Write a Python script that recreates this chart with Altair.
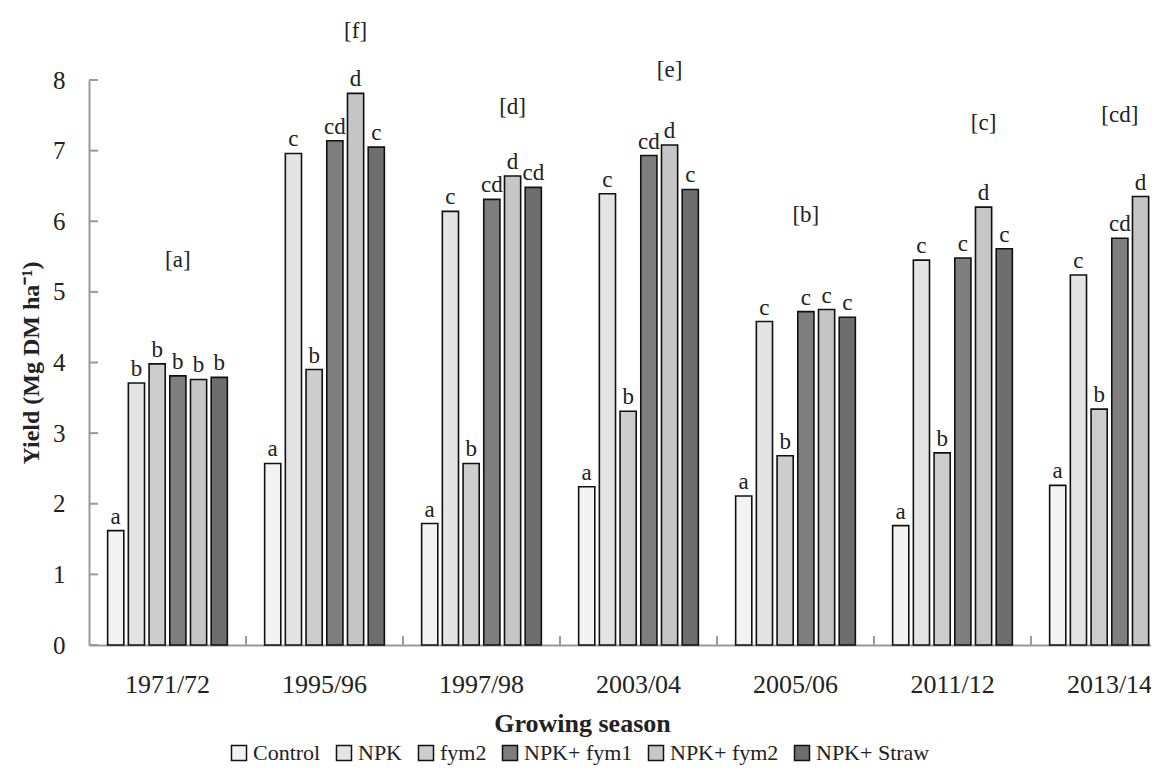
import altair as alt
import pandas as pd

seasons = ["1971/72", "1995/96", "1997/98", "2003/04", "2005/06", "2011/12", "2013/14"]
treatments = ["Control", "NPK", "fym2", "NPK+ fym1", "NPK+ fym2", "NPK+ Straw"]

control = [1.62, 2.57, 1.72, 2.24, 2.11, 1.69, 2.26]
npk = [3.71, 6.96, 6.14, 6.39, 4.58, 5.45, 5.24]
fym2 = [3.98, 3.90, 2.57, 3.31, 2.68, 2.72, 3.34]
npk_fym1 = [3.81, 7.14, 6.31, 6.93, 4.72, 5.48, 5.76]
npk_fym2 = [3.76, 7.81, 6.64, 7.08, 4.75, 6.20, 6.35]
npk_straw = [3.79, 7.05, 6.48, 6.45, 4.64, 5.61, 5.71]

letters_control = ["a", "a", "a", "a", "a", "a", "a"]
letters_npk = ["b", "c", "c", "c", "c", "c", "c"]
letters_fym2 = ["b", "b", "b", "b", "b", "b", "b"]
letters_npk_fym1 = ["b", "cd", "cd", "cd", "c", "c", "cd"]
letters_npk_fym2 = ["b", "d", "d", "d", "c", "d", "d"]
letters_npk_straw = ["b", "c", "cd", "c", "c", "c", "c"]

group_labels = ["[a]", "[f]", "[d]", "[e]", "[b]", "[c]", "[cd]"]
group_label_y = [5.45, 8.69, 7.62, 8.14, 6.09, 7.39, 7.50]
group_label_over = ["NPK+ fym1", "NPK+ fym2", "NPK+ fym2", "NPK+ fym2",
                    "NPK+ fym1", "NPK+ fym2", "NPK+ fym1"]

y_ticks = [0, 1, 2, 3, 4, 5, 6, 7, 8]

fills = ["#f3f3f3", "#e4e4e4", "#cdcdcd", "#7e7e7e", "#c6c6c6", "#6e6e6e"]

series = [control, npk, fym2, npk_fym1, npk_fym2, npk_straw]
letter_series = [letters_control, letters_npk, letters_fym2,
                 letters_npk_fym1, letters_npk_fym2, letters_npk_straw]

rows = []
for t, vals, lets in zip(treatments, series, letter_series):
    for s, v, l in zip(seasons, vals, lets):
        rows.append({"season": s, "treatment": t, "yield": v, "letter": l})
df = pd.DataFrame(rows)

glab = pd.DataFrame({"season": seasons, "label": group_labels, "ly": group_label_y,
                     "treatment": group_label_over})
ytk = pd.DataFrame({"v": y_ticks})
xtk = pd.DataFrame({"season": seasons[1:]})

FONT = "Liberation Serif"
BAND = 157
xscale = alt.Scale(domain=seasons, range=[0, BAND * len(seasons)], paddingInner=0, paddingOuter=0)
offscale = alt.Scale(domain=treatments, paddingInner=0.22, paddingOuter=0.9)
yscale = alt.Scale(domain=[0, 8], nice=False)

x_enc = alt.X("season:N", scale=xscale, sort=seasons,
              axis=alt.Axis(title="Growing season", labelAngle=0, ticks=False,
                            domainColor="#9a9a9a", domainWidth=2,
                            labelFont=FONT, labelFontSize=26, labelColor="#222",
                            labelPadding=26,
                            titleFont=FONT, titleFontSize=26, titleFontWeight="bold",
                            titleColor="#222", titleX=493, titleY=78,
                            titleBaseline="middle"))
xo_enc = alt.XOffset("treatment:N", scale=offscale, sort=treatments)
y_enc = alt.Y("yield:Q", scale=yscale,
              axis=alt.Axis(title="Yield (Mg DM ha⁻¹)", values=y_ticks, format="d",
                            grid=False, ticks=False, domainColor="#9a9a9a", domainWidth=2,
                            labelFont=FONT, labelFontSize=25, labelColor="#222",
                            labelPadding=24,
                            titleFont=FONT, titleFontSize=24, titleFontWeight="bold",
                            titleColor="#222", titlePadding=9))

bars = alt.Chart(df).mark_bar(stroke="#111", strokeWidth=1.6).encode(
    x=x_enc,
    xOffset=xo_enc,
    y=y_enc,
    color=alt.Color("treatment:N", sort=treatments,
                    scale=alt.Scale(domain=treatments, range=fills),
                    legend=alt.Legend(title=None, orient="none", direction="horizontal",
                                      legendX=139, legendY=662,
                                      symbolType="square", symbolSize=225,
                                      symbolStrokeColor="#111", symbolStrokeWidth=1.5,
                                      labelFont=FONT, labelFontSize=22, labelColor="#222",
                                      labelOffset=3, columnPadding=12,
                                      labelLimit=300)),
)

letters = alt.Chart(df).mark_text(font=FONT, fontSize=23, color="#222",
                                  baseline="alphabetic", dy=-7).encode(
    x=alt.X("season:N", scale=xscale, sort=seasons),
    xOffset=alt.XOffset("treatment:N", scale=offscale, sort=treatments),
    y=alt.Y("yield:Q", scale=yscale),
    text="letter:N",
)

glabels = alt.Chart(glab).mark_text(font=FONT, fontSize=23, color="#222",
                                    baseline="middle").encode(
    x=alt.X("season:N", scale=xscale, sort=seasons),
    xOffset=alt.XOffset("treatment:N", scale=offscale, sort=treatments),
    y=alt.Y("ly:Q", scale=yscale),
    text="label:N",
)

yticks = alt.Chart(ytk).mark_rule(color="#9a9a9a", strokeWidth=2).encode(
    y=alt.Y("v:Q", scale=yscale),
    x=alt.value(0),
    x2=alt.value(9),
)

xticks = alt.Chart(xtk).mark_rule(color="#9a9a9a", strokeWidth=2).encode(
    x=alt.X("season:N", scale=xscale, sort=seasons, bandPosition=0),
    y=alt.value(565),
    y2=alt.value(556),
)

chart = alt.layer(bars, letters, glabels, yticks, xticks).properties(
    width=1062,
    height=565,
    autosize=alt.AutoSizeParams(type="none"),
    padding={"left": 81, "top": 72, "right": 0, "bottom": 125},
    background="white",
).configure_view(stroke=None)

chart.save("out.html", embed_options={"renderer": "svg", "actions": False})
